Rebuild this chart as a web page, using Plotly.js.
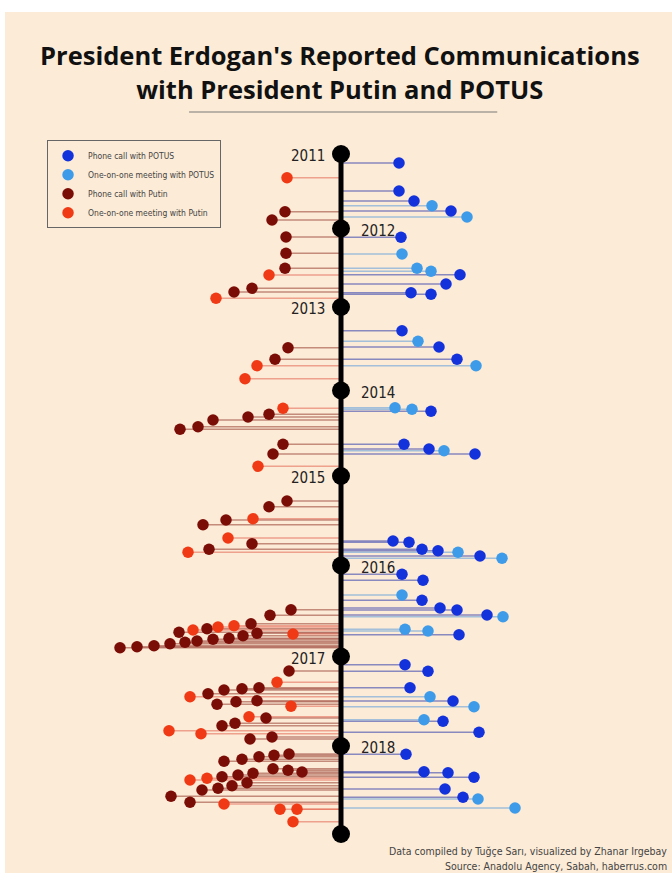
<!DOCTYPE html>
<html>
<head>
<meta charset="utf-8">
<script src="https://cdn.plot.ly/plotly-3.0.1.min.js"></script>
<style>
  html, body { margin:0; padding:0; background:#ffffff; }
  #chart { position:absolute; left:5px; top:12px; width:667px; height:861px; }
</style>
</head>
<body>
<div id="chart"></div>
<script>
// Timeline positions (arbitrary timeline units, 2011 = 0) of the year markers
const yearLabels = ['2011','2012','2013','2014','2015','2016','2017','2018',''];
const yearPos = [0, 74.5, 153, 236.5, 322, 411.5, 502.5, 592, 680];

// Phone calls with POTUS: distance from timeline, timeline position
const potusCallX = [58,58,73,110, 60,119,105,70,90, 61,98,116, 90,63,88,134, 52,68,81,97,139, 61,82,81,99,116,146,118, 64,87,69,112,102,138, 65,83,107,133,104,122];
const potusCallT = [9,37,47,57, 83.3,120.7,130,138.7,140.3, 176.7,193,205.3, 257.3,290.3,295,300, 387,388.3,395.3,396.7,402, 420.3,426.3,446.3,454,456,461,480.7, 510.7,517.3,533.7,547,567.3,578.3, 600.3,617.7,618.7,623.3,635,643.3];

// One-on-one meetings with POTUS
const potusMeetX = [91,126,61,76,90,77,135,54,71,103,117,161,61,162,64,87,89,133,83,137,174];
const potusMeetT = [51.7,63,100,114.3,117.3,187.3,211.7,253.7,255.3,296.7,398.3,404.3,441,462.7,475.3,477,542.7,552.7,565.7,645,654];

// Phone calls with Putin
const putinCallX = [-56,-69,-55,-55,-56,-89,-107, -53,-66, -72,-93,-128,-143,-161,-58,-68, -54,-72,-115,-138,-89,-132,
  -50,-71,-90,-134,-162,-84,-98,-112,-128,-144,-156,-171,-187,-204,-221,
  -52,-82,-99,-117,-133,-84,-105,-124,-75,-106,-119,-69,-91,
  -52,-67,-82,-99,-117,-68,-53,-39,-88,-103,-119,-94,-109,-123,-139,-170,-151];
const putinCallT = [57.7,66,83,99.3,114.3,134.3,138, 193.7,205.3, 260.3,263,266,272.7,275.3,290.3,300, 347,352.7,366,370.7,389.7,395.3,
  455.7,461.3,469.7,474.7,478.3,479.3,481.7,484.3,485.3,487,488.3,489.7,491.7,492.7,493.7,
  517,533.7,534.7,536,539.7,546.7,547.7,550.3,564,569.3,571.7,583,585,
  600,601.3,602.7,605.3,607.3,614.7,616.3,618,619.3,621,622.7,628.7,631.7,634.3,636,642.3,648.3];

// One-on-one meetings with Putin
const putinMeetX = [-54,-72,-125,-84,-96,-58,-83,-88,-113,-153,-107,-123,-148,-48,-64,-151,-50,-92,-172,-140,-134,-151,-117,-61,-44,-48];
const putinMeetT = [23.7,121,144.3,211.7,224.7,254.3,312.3,364.7,384,398.3,471.7,473,476,480,528.3,542.7,552.3,562.7,576.7,579.7,624.3,626,650,655.3,655.3,667.7];

const series = [
  {name:'Phone call with POTUS', x:potusCallX, t:potusCallT, dot:'#1432dc', stem:'rgba(60,70,175,0.6)'},
  {name:'One-on-one meeting with POTUS', x:potusMeetX, t:potusMeetT, dot:'#3d9be9', stem:'rgba(90,155,220,0.55)'},
  {name:'Phone call with Putin', x:putinCallX, t:putinCallT, dot:'#7b0d07', stem:'rgba(150,60,50,0.55)'},
  {name:'One-on-one meeting with Putin', x:putinMeetX, t:putinMeetT, dot:'#f03a16', stem:'rgba(225,100,80,0.55)'}
];

const traces = [];
series.forEach(s => {
  const sx = [], sy = [];
  s.x.forEach((v, i) => { sx.push(0, v, null); sy.push(s.t[i], s.t[i], null); });
  traces.push({type:'scatter', mode:'lines', x:sx, y:sy, line:{color:s.stem, width:1.5},
    showlegend:false, hoverinfo:'skip'});
});
traces.push({type:'scatter', mode:'lines+markers', x:yearPos.map(() => 0), y:yearPos,
  line:{color:'#000000', width:5}, marker:{color:'#000000', size:18}, showlegend:false, hoverinfo:'skip'});
series.forEach(s => {
  traces.push({type:'scatter', mode:'markers', name:s.name, x:s.x, y:s.t,
    marker:{color:s.dot, size:11.5}});
});

const condensed = 'DejaVu Sans Condensed, Liberation Sans Narrow, Roboto, sans-serif';
const annotations = [];
yearLabels.forEach((lab, i) => {
  if (!lab) return;
  const left = i % 2 === 0;
  annotations.push({xref:'x', yref:'y', x:0, y:yearPos[i], text:lab, showarrow:false,
    xanchor: left ? 'right' : 'left', xshift: left ? -14 : 18, yshift:-2,
    font:{family:condensed, size:15, color:'#222222'}});
});
annotations.push({xref:'paper', yref:'paper', x:0.995, y:0.0256, xanchor:'right', yanchor:'middle', align:'right',
  text:'Data compiled by Tuğçe Sarı, visualized by Zhanar Irgebay',
  showarrow:false, font:{family:condensed, size:10.5, color:'#444444'}});
annotations.push({xref:'paper', yref:'paper', x:0.995, y:0.0081, xanchor:'right', yanchor:'middle', align:'right',
  text:'Source: Anadolu Agency, Sabah, haberrus.com',
  showarrow:false, font:{family:condensed, size:10.5, color:'#444444'}});

const layout = {
  width:667, height:861,
  margin:{l:0, r:0, t:0, b:0},
  paper_bgcolor:'#fcebd6', plot_bgcolor:'rgba(0,0,0,0)',
  title:{text:"President Erdogan's Reported Communications<br>with President Putin and POTUS",
    x:0.502, xanchor:'center', y:0.938, yanchor:'top', yref:'container',
    font:{family:'Open Sans, sans-serif', size:25.5, color:'#111111', weight:700}},
  xaxis:{range:[-336, 331], visible:false, fixedrange:true},
  yaxis:{range:[719, -142], visible:false, fixedrange:true},
  showlegend:true,
  legend:{x:0.063, y:0.851, xanchor:'left', yanchor:'top', bgcolor:'rgba(0,0,0,0)',
    bordercolor:'#666666', borderwidth:1, font:{family:condensed, size:8.5, color:'#444444'},
    tracegroupgap:0},
  shapes:[{type:'line', xref:'paper', yref:'paper', x0:0.276, x1:0.738, y0:0.884, y1:0.884,
    line:{color:'#a59f96', width:1.5}}],
  annotations:annotations
};

Plotly.newPlot('chart', traces, layout, {displayModeBar:false, staticPlot:true});
</script>
</body>
</html>
